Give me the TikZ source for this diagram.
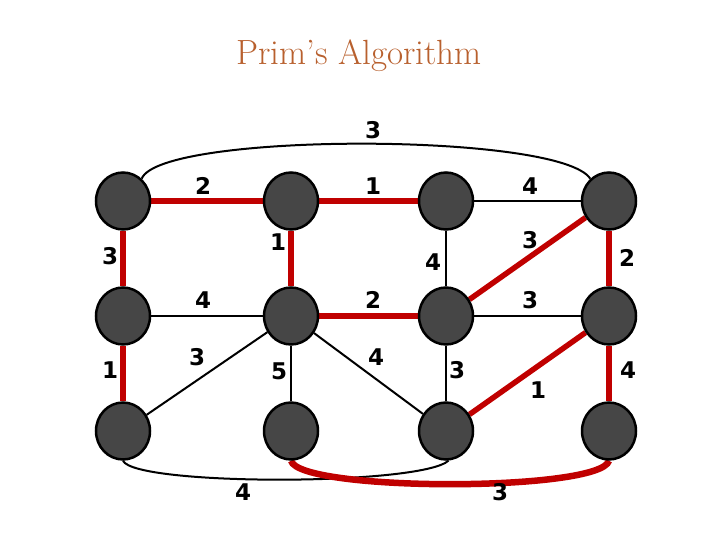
\documentclass[tikz,border=0pt]{standalone}
\usepackage{fontspec}
\newfontfamily\lblfont{DejaVu Sans}
\usetikzlibrary{shapes.geometric,backgrounds}
\definecolor{titlecol}{RGB}{184,96,46}
\definecolor{nodefill}{RGB}{70,70,70}
\definecolor{mstred}{RGB}{192,0,0}
\begin{document}
\begin{tikzpicture}[x=1pt,y=-1pt,
  vert/.style={ellipse,draw=black,line width=2.5pt,fill=nodefill,minimum width=54pt,minimum height=57pt,inner sep=0pt},
  plain/.style={draw=black,line width=2pt},
  tree/.style={draw=mstred,line width=5.5pt},
  wt/.style={font=\lblfont\bfseries\fontsize{23}{27}\selectfont,inner sep=0pt},
  ttl/.style={font=\fontsize{35}{40}\selectfont,text=titlecol}]
\useasboundingbox (0,0) rectangle (720,540);
\node[ttl] (title) at (359,56) {Prim’s Algorithm};
% vertices
\node[vert] (a1) at (123,201) {};
\node[vert] (a2) at (291,201) {};
\node[vert] (a3) at (446,201) {};
\node[vert] (a4) at (609,201) {};
\node[vert] (b1) at (123,316) {};
\node[vert] (b2) at (291,316) {};
\node[vert] (b3) at (446,316) {};
\node[vert] (b4) at (609,316) {};
\node[vert] (c1) at (123,431) {};
\node[vert] (c2) at (291,431) {};
\node[vert] (c3) at (446,431) {};
\node[vert] (c4) at (609,431) {};
\begin{scope}[on background layer]
% black edges
\draw[plain] (a1.50) .. controls (160,132) and (560,132) .. (a4.130);
\draw[plain] (a3) -- (a4);
\draw[plain] (a3) -- (b3);
\draw[plain] (b1) -- (b2);
\draw[plain] (b3) -- (b4);
\draw[plain] (b2) -- (c1);
\draw[plain] (b2) -- (c2);
\draw[plain] (b2) -- (c3);
\draw[plain] (b3) -- (c3);
\draw[plain] (c1.-90) .. controls (135,486) and (420,486) .. (c3.-85);
% tree edges
\draw[tree] (a1) -- (a2);
\draw[tree] (a2) -- (a3);
\draw[tree] (a1) -- (b1);
\draw[tree] (a2) -- (b2);
\draw[tree] (a4) -- (b4);
\draw[tree] (a4) -- (b3);
\draw[tree] (b2) -- (b3);
\draw[tree] (b1) -- (c1);
\draw[tree] (b4) -- (c3);
\draw[tree] (b4) -- (c4);
\draw[tree,line width=6.5pt] (c2.-90) .. controls (300,492) and (600,492) .. (c4.-90);
\end{scope}
% weights
\node[wt] (w1) at (373,130) {3};
\node[wt] (w2) at (203,186) {2};
\node[wt] (w3) at (373,186) {1};
\node[wt] (w4) at (530,186) {4};
\node[wt] (w5) at (110,256) {3};
\node[wt] (w6) at (278,242) {1};
\node[wt] (w7) at (433,262) {4};
\node[wt] (w8) at (530,240) {3};
\node[wt] (w9) at (627,258) {2};
\node[wt] (w10) at (203,300) {4};
\node[wt] (w11) at (373,300) {2};
\node[wt] (w12) at (530,300) {3};
\node[wt] (w13) at (110,370) {1};
\node[wt] (w14) at (197,357) {3};
\node[wt] (w15) at (279,371) {5};
\node[wt] (w16) at (376,357) {4};
\node[wt] (w17) at (457,370) {3};
\node[wt] (w18) at (538,390) {1};
\node[wt] (w19) at (628,370) {4};
\node[wt] (w20) at (243,492) {4};
\node[wt] (w21) at (500,492) {3};
\end{tikzpicture}
\end{document}
